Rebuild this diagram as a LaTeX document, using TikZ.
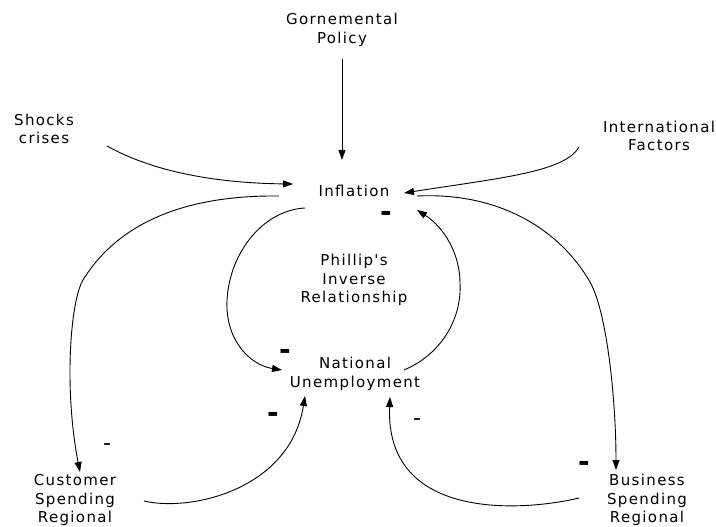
\documentclass[tikz,border=0pt]{standalone}
\usepackage{fontspec}
\setmainfont[LetterSpace=9,Ligatures=TeXOff]{DejaVu Sans}
\usetikzlibrary{arrows.meta,calc}
\begin{document}
\begin{tikzpicture}[x=1pt,y=-1pt,
  lbl/.style={align=center,inner sep=0pt,font=\fontsize{15}{18.5}\selectfont},
  bminus/.style={inner sep=0pt,font=\fontsize{28}{30}\selectfont\bfseries},
  tminus/.style={inner sep=0pt,font=\fontsize{22}{24}\selectfont},
  conn/.style={line width=0.9pt,-{Triangle[length=10pt,width=7pt]}}]
\useasboundingbox (0,0) rectangle (716,527);
\node[lbl] (pol) at (342,30) {Gornemental\\Policy};
\node[lbl] (shock) at (44,129) {Shocks\\crises};
\node[lbl] (intl) at (659,136) {International\\Factors};
\node[lbl] (inf) at (354,191) {Inflation};
\node[lbl] (phil) at (354,280) {Phillip's\\Inverse\\Relationship};
\node[lbl] (nat) at (355,374) {National\\Unemployment};
\node[lbl] (cust) at (75,500) {Customer\\Spending\\Regional};
\node[lbl] (bus) at (647,500) {Business\\Spending\\Regional};
\node[bminus] (m1) at (386,216) {-};
\node[bminus] (m2) at (285,354) {-};
\node[bminus] (m3) at (273,417) {-};
\node[bminus] (m4) at (584,466) {-};
\node[tminus] (m5) at (107,447) {-};
\node[tminus] (m6) at (417,422) {-};
% policy
\draw[conn] ($(pol)+(0,29)$) -- ($(inf)+(-12,-31)$);
% shocks
\draw[conn] ($(shock)+(63,17)$) .. controls (150,170) and (210,183) .. ($(inf)+(-61,-7)$);
% international
\draw[conn] ($(intl)+(-80,11)$) .. controls (565,172) and (500,178) .. ($(inf)+(50,2)$);
% inflation -> customer
\draw[conn] ($(inf)+(-75,5)$) .. controls (190,195) and (120,220) .. (83,280)
  .. controls (70,302) and (64,390) .. ($(cust)+(5,-28)$);
% customer -> national
\draw[conn] ($(cust)+(69,1)$) .. controls (190,512) and (290,490) .. ($(nat)+(-50,22)$);
% business -> national
\draw[conn] ($(bus)+(-68,-2)$) .. controls (520,512) and (385,520) .. ($(nat)+(35,23)$);
% inflation -> business
\draw[conn] ($(inf)+(63,5)$) .. controls (500,192) and (560,230) .. (590,282)
  .. controls (607,312) and (616,400) .. ($(bus)+(-31,-30)$);
% inflation -> national (left arc)
\draw[conn] ($(inf)+(-49,17)$) .. controls (265,210) and (230,250) .. (227,300)
  .. controls (225,340) and (250,365) .. ($(nat)+(-73,-4)$);
% national -> inflation (right arc)
\draw[conn] ($(nat)+(49,-4)$) .. controls (440,355) and (462,320) .. (460,283)
  .. controls (460,255) and (445,228) .. ($(inf)+(63,19)$);
\end{tikzpicture}
\end{document}
